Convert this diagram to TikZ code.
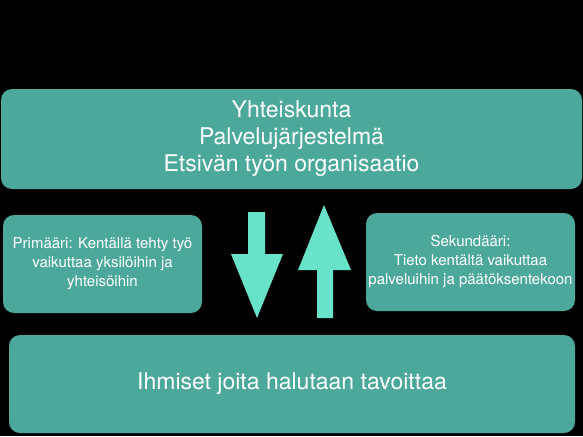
\documentclass[tikz,border=0pt]{standalone}
\usepackage{fontspec}
\setmainfont{TeX Gyre Heros}
\definecolor{panelteal}{HTML}{4CA89B}
\definecolor{arrowmint}{HTML}{68E2C9}

\begin{document}
\begin{tikzpicture}[x=1pt,y=-1pt,
  panel/.style={fill=panelteal,rounded corners=11pt,text=white,align=center,inner sep=0pt},
  bigtext/.style={font=\fontsize{23}{27}\selectfont},
  smalltext/.style={font=\fontsize{15}{19}\selectfont}]
  \fill[black] (0,0) rectangle (583,436);
  % boxes
  \node[panel,bigtext,minimum width=581pt,minimum height=100pt] (society) at (291.5,139)
    {Yhteiskunta\\Palvelujärjestelmä\\Etsivän työn organisaatio};
  \node[panel,smalltext,minimum width=199pt,minimum height=98pt] (primary) at (102.5,264)
    {Primääri: Kentällä tehty työ\\vaikuttaa yksilöihin ja\\yhteisöihin};
  \node[panel,smalltext,minimum width=209pt,minimum height=98pt] (secondary) at (470.5,262)
    {Sekundääri:\\Tieto kentältä vaikuttaa\\palveluihin ja päätöksentekoon};
  \node[panel,bigtext,minimum width=566pt,minimum height=98pt] (people) at (292,384)
    {Ihmiset joita halutaan tavoittaa};
  % down arrow
  \fill[arrowmint] (248,212) -- (265,212) -- (265,254) -- (283,254) -- (257,318)
    -- (231,254) -- (248,254) -- cycle;
  % up arrow
  \fill[arrowmint] (317,318) -- (333,318) -- (333,270) -- (351,270) -- (324,205)
    -- (298,270) -- (317,270) -- cycle;
\end{tikzpicture}
\end{document}
